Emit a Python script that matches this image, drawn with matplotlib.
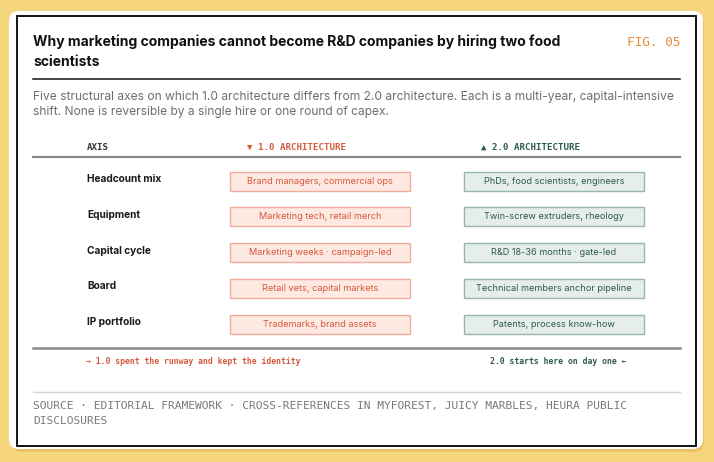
import matplotlib.pyplot as plt
from matplotlib.patches import FancyBboxPatch, Rectangle

plt.rcParams['font.family'] = ['Inter', 'DejaVu Sans']

title = "Why marketing companies cannot become R&D companies by hiring two food\nscientists"
subtitle = ("Five structural axes on which 1.0 architecture differs from 2.0 architecture. Each is a multi-year, capital-intensive\n"
            "shift. None is reversible by a single hire or one round of capex.")
fig_tag = "FIG. 05"

axes_names = ["Headcount mix", "Equipment", "Capital cycle", "Board", "IP portfolio"]
arch_1 = ["Brand managers, commercial ops", "Marketing tech, retail merch",
          "Marketing weeks · campaign-led", "Retail vets, capital markets",
          "Trademarks, brand assets"]
arch_2 = ["PhDs, food scientists, engineers", "Twin-screw extruders, rheology",
          "R&D 18-36 months · gate-led", "Technical members anchor pipeline",
          "Patents, process know-how"]
headers = ["AXIS", "▼ 1.0 ARCHITECTURE", "▲ 2.0 ARCHITECTURE"]
note_1 = "→ 1.0 spent the runway and kept the identity"
note_2 = "2.0 starts here on day one ←"
source = ("SOURCE · EDITORIAL FRAMEWORK · CROSS-REFERENCES IN MYFOREST, JUICY MARBLES, HEURA PUBLIC\n"
          "DISCLOSURES")

YELLOW = "#f5d67c"
RED = "#d65a3c"
TEAL = "#2e5a51"
ORANGE = "#ea8a35"
MONO = "DejaVu Sans Mono"

fig = plt.figure(figsize=(7.14, 4.62), dpi=100)
fig.patch.set_facecolor(YELLOW)
ax = fig.add_axes([0, 0, 1, 1])
ax.set_xlim(0, 714)
ax.set_ylim(462, 0)
ax.axis('off')

# card + border
ax.add_patch(FancyBboxPatch((12, 14), 692, 438, boxstyle="round,pad=0,rounding_size=10",
                            fc="#e8c465", ec="none", zorder=0))
ax.add_patch(FancyBboxPatch((9, 11), 694, 438, boxstyle="round,pad=0,rounding_size=10",
                            fc="white", ec="none", zorder=1))
ax.add_patch(Rectangle((17, 16), 679, 430, fc="none", ec="black", lw=1.3, zorder=2))

# header
ax.text(33, 52, title, fontsize=10.05, fontweight='bold', color="#111111",
        va='center', ha='left', linespacing=1.52, zorder=3)
ax.text(680, 42, fig_tag, fontsize=9.2, family=MONO, color=ORANGE,
        va='center', ha='right', zorder=3)
ax.plot([33, 680], [79, 79], color="#111111", lw=1.1, zorder=3)
ax.text(33, 104.5, subtitle, fontsize=8.65, color="#6e6e6e",
        va='center', ha='left', linespacing=1.4, zorder=3)

# column headers
ax.text(87, 147, headers[0], fontsize=6.6, family=MONO, fontweight='bold', color="#333333",
        va='center', ha='left', zorder=3)
ax.text(247, 147, headers[1], fontsize=6.6, family=[MONO, 'DejaVu Sans'], fontweight='bold',
        color=RED, va='center', ha='left', zorder=3)
ax.text(481, 147, headers[2], fontsize=6.6, family=[MONO, 'DejaVu Sans'], fontweight='bold',
        color=TEAL, va='center', ha='left', zorder=3)
ax.plot([33, 680], [157, 157], color="#8a8a8a", lw=1.6, zorder=3)

# rows
row_top = 181
row_step = 35.8
box_h = 19
for i, (name, a, b) in enumerate(zip(axes_names, arch_1, arch_2)):
    yc = row_top + i * row_step
    ax.text(87, yc - 2.0, name, fontsize=7.3, fontweight='bold', color="#1a1a1a",
            va='center', ha='left', zorder=3)
    ax.add_patch(Rectangle((230, yc - box_h / 2), 180, box_h, fc="#fde8e2",
                           ec="#f2ad9d", lw=1.0, zorder=3))
    ax.text(320, yc, a, fontsize=6.6, color=RED, va='center', ha='center', zorder=4)
    ax.add_patch(Rectangle((464, yc - box_h / 2), 180, box_h, fc="#e6eeec",
                           ec="#97b5ad", lw=1.0, zorder=3))
    ax.text(554, yc, b, fontsize=6.6, color=TEAL, va='center', ha='center', zorder=4)

ax.plot([33, 680], [348, 348], color="#8a8a8a", lw=1.8, zorder=3)
ax.text(86, 361, note_1, fontsize=5.9, family=MONO, fontweight='bold', color=RED,
        va='center', ha='left', zorder=3)
ax.text(626, 361, note_2, fontsize=5.9, family=MONO, fontweight='bold', color=TEAL,
        va='center', ha='right', zorder=3)

ax.plot([33, 680], [392, 392], color="#d6d6cc", lw=1.0, zorder=3)
ax.text(33, 413.5, source, fontsize=8.1, family=MONO, color="#7a7a7a",
        va='center', ha='left', linespacing=1.5, zorder=3)

fig.savefig("out.png", dpi=100, facecolor=YELLOW)
